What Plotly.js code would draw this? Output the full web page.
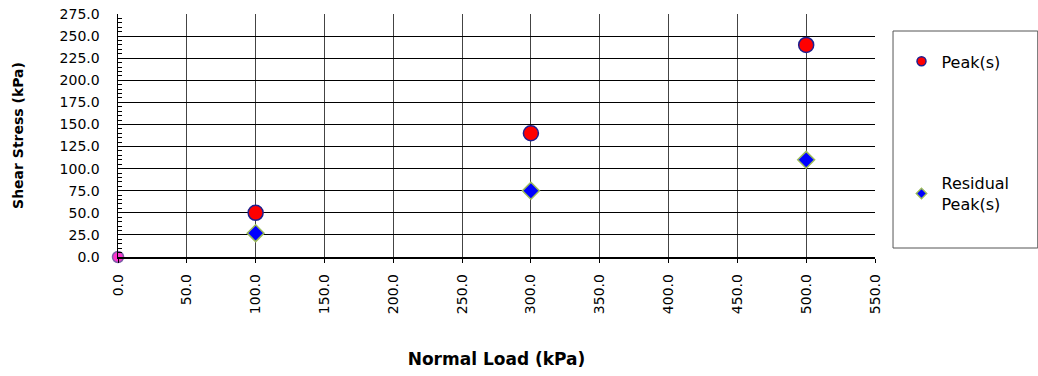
<!DOCTYPE html>
<html>
<head>
<meta charset="utf-8">
<script src="https://cdn.plot.ly/plotly-3.0.1.min.js"></script>
<style>html,body{margin:0;padding:0;background:#fff;}#chart{width:1038px;height:376px;}</style>
</head>
<body>
<div id="chart"></div>
<script>
const peakX = [100, 300, 500];
const peakY = [50, 140, 240];
const residualX = [100, 300, 500];
const residualY = [27, 75, 110];
const originX = [0];
const originY = [0];
const seriesNames = ['Peak(s)', 'Residual<br>Peak(s)'];

const FONT = "'DejaVu Sans', 'Open Sans', sans-serif";

const peakMarker = {symbol: 'circle', size: 15, color: '#ff0000', line: {color: '#1f1f8f', width: 1.5}};
const resMarker = {symbol: 'diamond', size: 13, color: '#0000ff', line: {color: '#9bbb59', width: 1.5}};

const traces = [
  {
    x: originX, y: originY, type: 'scatter', mode: 'markers', showlegend: false,
    cliponaxis: false, hoverinfo: 'skip',
    marker: {symbol: 'circle', size: 11, color: '#ff33cc', line: {color: '#7f5fa8', width: 1.5}}
  },
  {x: peakX, y: peakY, type: 'scatter', mode: 'markers', name: seriesNames[0], showlegend: false, cliponaxis: false, marker: peakMarker},
  {x: residualX, y: residualY, type: 'scatter', mode: 'markers', name: seriesNames[1], showlegend: false, cliponaxis: false, marker: resMarker},
  {x: [null], y: [null], type: 'scatter', mode: 'markers', name: seriesNames[0], legendgroup: 'a',
   marker: {symbol: 'circle', size: 9, color: '#ff0000', line: {color: '#1f1f8f', width: 1.5}}},
  {x: [null], y: [null], type: 'scatter', mode: 'markers', name: seriesNames[1], legendgroup: 'b',
   marker: {symbol: 'diamond', size: 8, color: '#0000ff', line: {color: '#9bbb59', width: 1.5}}}
];

const layout = {
  width: 1038, height: 376,
  margin: {l: 118, r: 163, t: 14, b: 119},
  paper_bgcolor: '#fff', plot_bgcolor: '#fff',
  font: {family: FONT, size: 14, color: '#000'},
  showlegend: true,
  legend: {
    x: 1.035, y: 0.875, xanchor: 'left', yanchor: 'top',
    bgcolor: 'rgba(0,0,0,0)', borderwidth: 0,
    traceorder: 'grouped', tracegroupgap: 98,
    font: {family: FONT, size: 16, color: '#000'},
    itemwidth: 30
  },
  xaxis: {
    range: [0, 550], dtick: 50, tick0: 0,
    tickformat: '.1f', tickangle: -90,
    showgrid: true, gridcolor: '#444', gridwidth: 1,
    zeroline: false, showline: true, linecolor: '#000', linewidth: 1.5,
    ticks: 'outside', ticklen: 4, tickcolor: '#000',
    ticklabelstandoff: 6,
    tickfont: {family: FONT, size: 14},
    title: {text: '<b>Normal Load (kPa)</b>', font: {family: FONT, size: 17}, standoff: 40},
    fixedrange: true
  },
  yaxis: {
    range: [0, 275], dtick: 25, tick0: 0,
    tickformat: '.1f',
    showgrid: true, gridcolor: '#000', gridwidth: 1,
    zeroline: false, showline: true, linecolor: '#000', linewidth: 1.5,
    ticks: '', ticklabelstandoff: 14,
    tickfont: {family: FONT, size: 14},
    minor: {dtick: 5, ticks: 'inside', ticklen: 4, tickcolor: '#000', showgrid: false},
    title: {text: '<b>Shear Stress (kPa)</b>', font: {family: FONT, size: 14}, standoff: 32},
    fixedrange: true
  },
  shapes: [
    {type: 'rect', xref: 'paper', yref: 'paper', x0: 1.0238, x1: 1.215, y0: 0.037, y1: 0.93,
     line: {color: '#555', width: 1}, fillcolor: 'rgba(0,0,0,0)'}
  ]
};

Plotly.newPlot('chart', traces, layout, {displayModeBar: false, staticPlot: true});
</script>
</body>
</html>
